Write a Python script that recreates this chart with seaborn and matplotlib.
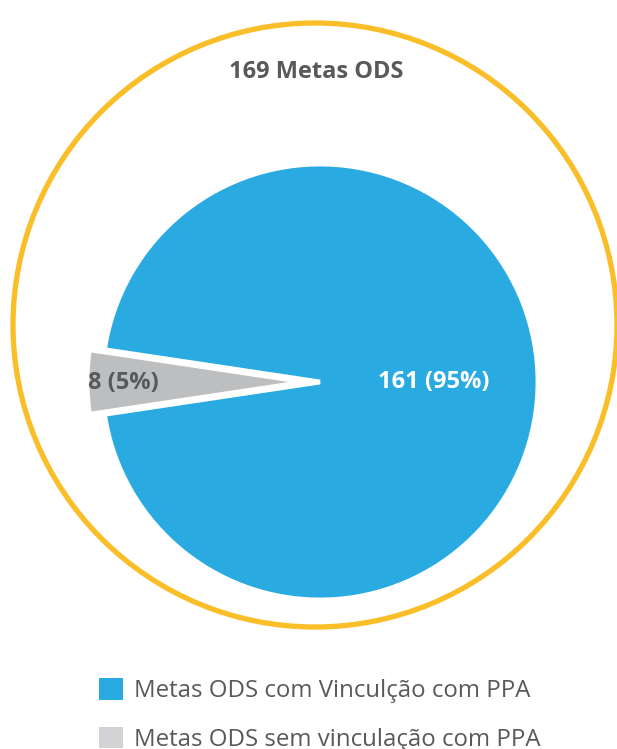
import matplotlib.pyplot as plt
import seaborn as sns
from matplotlib.patches import Circle, Patch

labels = ["Metas ODS sem vinculação com PPA", "Metas ODS com Vinculção com PPA"]
counts = [8, 161]
total_label = "169 Metas ODS"
wedge_colors = ["#BCBEC0", "#29ABE2"]
legend_colors = ["#29ABE2", "#D1D3D4"]
legend_labels = ["Metas ODS com Vinculção com PPA", "Metas ODS sem vinculação com PPA"]

TEXT = "#58595B"

sns.set_theme(style="white")
plt.rcParams["font.family"] = ["Open Sans", "DejaVu Sans"]

fig = plt.figure(figsize=(6.17, 7.49), dpi=100)
ax = fig.add_axes([0, 0, 1, 1])
ax.set_xlim(0, 617)
ax.set_ylim(0, 749)
ax.set_aspect("equal")
ax.axis("off")

total = sum(counts)
start = 180 - 360 * counts[0] / total / 2


def fmt(pct):
    n = round(pct * total / 100)
    return f"{n} ({pct:.0f}%)"


wedges, _, autotexts = ax.pie(
    counts,
    colors=wedge_colors,
    startangle=start,
    center=(320, 367),
    radius=218,
    explode=[15, 0],
    autopct=fmt,
    pctdistance=0.52,
    wedgeprops={"edgecolor": "white", "linewidth": 3.5},
    textprops={"fontsize": 17, "fontweight": "bold"},
)
ax.set_xlim(0, 617)
ax.set_ylim(0, 749)
autotexts[0].set_color(TEXT)
autotexts[0].set_position((123, 366))
autotexts[1].set_color("white")

ring = Circle((315, 424), 302, fill=False, edgecolor="#F9BE28", linewidth=3.8)
ax.add_patch(ring)
ax.text(316, 677, total_label, ha="center", va="center",
        fontsize=17, fontweight="bold", color=TEXT)

handles = [Patch(facecolor=c, edgecolor="none") for c in legend_colors]
leg = fig.legend(
    handles, legend_labels,
    loc="upper left", bbox_to_anchor=(0.16, 0.095),
    frameon=False, fontsize=17.3, handlelength=1.02, handleheight=1.02,
    handletextpad=0.45, labelspacing=0.98, borderpad=0, borderaxespad=0,
    labelcolor=TEXT,
)

fig.savefig("out.png", dpi=100)
